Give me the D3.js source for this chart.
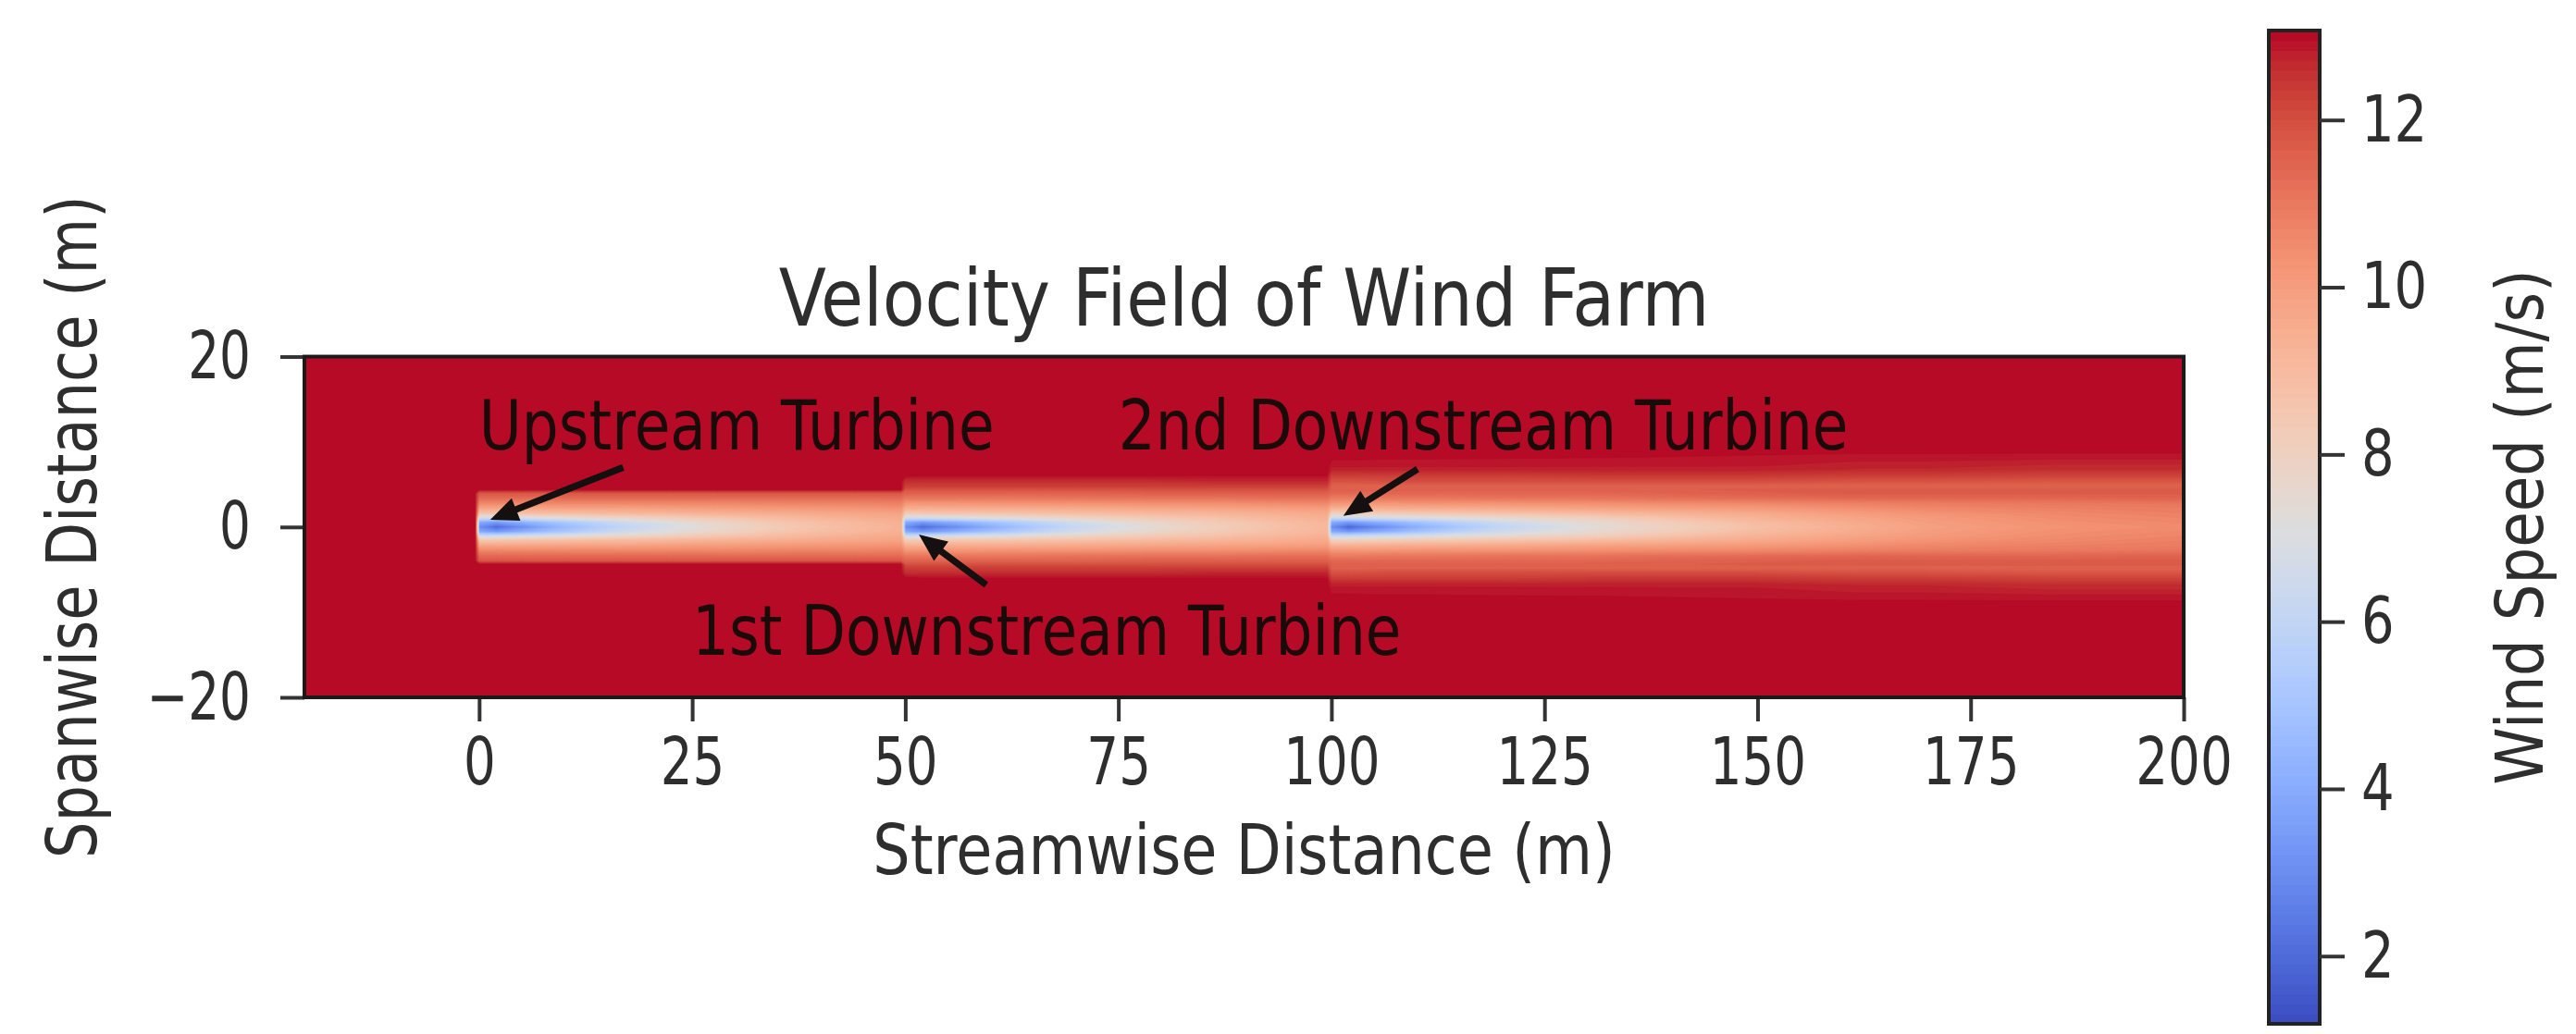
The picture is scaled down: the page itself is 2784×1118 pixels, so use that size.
<!DOCTYPE html>
<html><head><meta charset="utf-8">
<script src="https://cdn.jsdelivr.net/npm/d3@7"></script>
<style>body{margin:0;background:#fff}svg{display:block}</style>
</head><body>
<svg id="chart" width="2784" height="1118"></svg>
<script>
// ================= DATA =================
// streamwise stations (m) of the sampled velocity field
const xStations = [-20.5, -0.5, 0, 2, 5, 10, 16, 22, 28, 36, 44, 49.5,
  50, 52, 56, 62, 70, 78, 86, 93, 99.5,
  100, 102, 106, 112, 120, 130, 138, 150, 162, 170, 185, 200];
// spanwise offsets |y| (m); the field is symmetric about y = 0
const yOffsets = [0, 0.6, 1.1, 1.6, 2.2, 2.8, 3.4, 4.0, 4.4, 4.8, 5.4, 6.0, 6.8, 8.2, 9.0, 20];
// wind speed (m/s) at each station, one value per |y| offset
const speedProfiles = [
  [13, 13, 13, 13, 13, 13, 13, 13, 13, 13, 13, 13, 13, 13, 13, 13],                       // x=-20.5
  [13, 13, 13, 13, 13, 13, 13, 13, 13, 13, 13, 13, 13, 13, 13, 13],                       // x=-0.5
  [3.0, 4.0, 6.5, 8.5, 9.7, 10.6, 11.3, 11.8, 13, 13, 13, 13, 13, 13, 13, 13],            // x=0 upstream turbine
  [2.0, 3.5, 6.5, 8.6, 9.7, 10.6, 11.3, 11.8, 13, 13, 13, 13, 13, 13, 13, 13],
  [3.0, 4.2, 6.8, 8.7, 9.7, 10.6, 11.3, 11.8, 13, 13, 13, 13, 13, 13, 13, 13],
  [4.5, 5.2, 7.2, 8.8, 9.8, 10.6, 11.3, 11.8, 13, 13, 13, 13, 13, 13, 13, 13],
  [5.8, 6.3, 7.7, 9.0, 9.8, 10.6, 11.3, 11.8, 13, 13, 13, 13, 13, 13, 13, 13],
  [6.8, 7.1, 8.1, 9.1, 9.9, 10.6, 11.3, 11.8, 13, 13, 13, 13, 13, 13, 13, 13],
  [7.6, 7.8, 8.5, 9.3, 10.0, 10.6, 11.3, 11.8, 13, 13, 13, 13, 13, 13, 13, 13],
  [8.4, 8.6, 9.0, 9.5, 10.1, 10.7, 11.3, 11.8, 13, 13, 13, 13, 13, 13, 13, 13],
  [9.0, 9.1, 9.4, 9.7, 10.2, 10.7, 11.3, 11.8, 13, 13, 13, 13, 13, 13, 13, 13],
  [9.3, 9.4, 9.6, 9.8, 10.3, 10.8, 11.3, 11.8, 13, 13, 13, 13, 13, 13, 13, 13],          // x=49.5
  [3.0, 4.0, 6.5, 8.3, 9.4, 10.2, 11.0, 11.5, 11.9, 12.3, 12.6, 13, 13, 13, 13, 13],      // x=50 1st downstream
  [2.0, 3.5, 6.5, 8.4, 9.4, 10.2, 11.0, 11.5, 11.9, 12.3, 12.6, 12.95, 13, 13, 13, 13],
  [3.0, 4.2, 6.8, 8.5, 9.5, 10.2, 11.0, 11.5, 11.9, 12.3, 12.6, 12.95, 13, 13, 13, 13],
  [4.5, 5.3, 7.2, 8.6, 9.5, 10.3, 11.0, 11.5, 11.9, 12.3, 12.6, 12.95, 13, 13, 13, 13],
  [6.2, 6.6, 7.8, 8.8, 9.6, 10.3, 11.1, 11.5, 11.9, 12.3, 12.6, 12.95, 13, 13, 13, 13],
  [7.3, 7.6, 8.3, 9.0, 9.7, 10.4, 11.1, 11.6, 11.9, 12.3, 12.6, 12.95, 13, 13, 13, 13],
  [8.1, 8.3, 8.7, 9.2, 9.8, 10.4, 11.1, 11.6, 11.9, 12.3, 12.7, 12.95, 13, 13, 13, 13],
  [8.7, 8.8, 9.1, 9.4, 9.9, 10.5, 11.2, 11.6, 11.9, 12.3, 12.7, 12.95, 13, 13, 13, 13],
  [9.1, 9.2, 9.4, 9.6, 10.0, 10.6, 11.2, 11.6, 11.9, 12.3, 12.7, 12.95, 13, 13, 13, 13],  // x=99.5
  [3.0, 4.0, 6.3, 8.0, 9.3, 10.2, 10.9, 11.4, 11.6, 11.5, 11.9, 12.3, 12.8, 13, 13, 13],   // x=100 2nd downstream
  [1.8, 3.5, 6.3, 8.1, 9.3, 10.2, 10.9, 11.4, 11.6, 11.5, 11.9, 12.3, 12.8, 13, 13, 13],
  [3.0, 4.2, 6.6, 8.2, 9.4, 10.2, 11.0, 11.4, 11.6, 11.5, 12.0, 12.3, 12.8, 12.98, 13, 13],
  [4.5, 5.3, 7.0, 8.4, 9.5, 10.3, 11.0, 11.4, 11.6, 11.5, 12.0, 12.3, 12.8, 12.98, 13, 13],
  [6.0, 6.5, 7.5, 8.6, 9.6, 10.3, 11.1, 11.4, 11.6, 11.5, 12.0, 12.3, 12.8, 12.97, 13, 13],
  [7.2, 7.5, 8.1, 8.9, 9.8, 10.4, 11.1, 11.4, 11.6, 11.5, 12.0, 12.4, 12.8, 12.96, 13, 13],
  [7.9, 8.1, 8.6, 9.2, 9.9, 10.5, 11.2, 11.5, 11.6, 11.5, 12.0, 12.4, 12.8, 12.95, 13, 13],
  [8.8, 9.0, 9.3, 9.6, 10.1, 10.6, 11.3, 11.6, 11.7, 11.5, 12.0, 12.4, 12.8, 12.93, 13, 13],
  [9.5, 9.6, 9.8, 10.0, 10.4, 10.8, 11.4, 11.7, 11.7, 11.5, 11.9, 12.3, 12.7, 12.9, 13, 13],
  [9.9, 10.0, 10.1, 10.3, 10.6, 10.9, 11.4, 11.7, 11.7, 11.5, 11.9, 12.3, 12.7, 12.9, 13, 13],
  [10.3, 10.4, 10.5, 10.6, 10.8, 11.0, 11.4, 11.7, 11.7, 11.5, 11.8, 12.2, 12.6, 12.88, 13, 13],
  [10.5, 10.6, 10.7, 10.8, 10.9, 11.1, 11.5, 11.7, 11.7, 11.5, 11.8, 12.2, 12.6, 12.88, 13, 13] // x=200
];
const speedRange = [1.19, 13.07];          // colour-bar limits (m/s)
const levelCount = 100;                    // filled contour levels
const xTicks = [0, 25, 50, 75, 100, 125, 150, 175, 200];
const yTicks = [-20, 0, 20];
const cbTicks = [2, 4, 6, 8, 10, 12];
const annotations = [
  {text: "Upstream Turbine",       tx: 0,  ty: 9.1,  ax: 16.9,  ay: 7.0,  hx: 1.3,   hy: 0.85},
  {text: "1st Downstream Turbine", tx: 25, ty: -15,  ax: 59.5,  ay: -6.8, hx: 51.6,  hy: -0.9},
  {text: "2nd Downstream Turbine", tx: 75, ty: 9.1,  ax: 110.1, ay: 6.8,  hx: 101.4, hy: 1.3}
];
const titleText = "Velocity Field of Wind Farm";
const xLabel = "Streamwise Distance (m)";
const yLabel = "Spanwise Distance (m)";
const cbLabel = "Wind Speed (m/s)";
// matplotlib "coolwarm" colour stops
const coolwarm = [[59,76,192],[68,90,204],[77,104,215],[87,117,225],[98,130,234],[108,142,241],
  [119,154,247],[130,165,251],[141,176,254],[152,185,255],[163,194,255],[174,201,253],[184,208,249],
  [194,213,244],[204,217,238],[213,219,230],[221,221,221],[229,216,209],[236,211,197],[241,204,185],
  [245,196,173],[247,187,160],[247,177,148],[247,166,135],[244,154,123],[241,141,111],[236,127,99],
  [229,112,88],[222,96,77],[213,80,66],[203,62,56],[192,40,47],[180,4,38]];

// ================= LAYOUT =================
const FONT = "DejaVu Sans";
const TXT = "#2e2e2e";
const plot = {left: 329, right: 2360, bottom: 754};
const xDomain = [-20.5, 200];
const pxPerUnit = (plot.right - plot.left) / (xDomain[1] - xDomain[0]);
plot.top = plot.bottom - pxPerUnit * (yTicks[2] - yTicks[0]);
const cb = {left: 2452, right: 2507, top: 33, bottom: 1107};

const svg = d3.select("#chart");
const x = d3.scaleLinear().domain(xDomain).range([plot.left, plot.right]);
const y = d3.scaleLinear().domain([-20, 20]).range([plot.bottom, plot.top]);

const cmapScale = d3.scaleLinear()
  .domain(coolwarm.map((_, i) => i / (coolwarm.length - 1)))
  .range(coolwarm.map(c => d3.rgb(c[0], c[1], c[2])))
  .interpolate(d3.interpolateRgb).clamp(true);
const norm = d3.scaleLinear().domain(speedRange).range([0, 1]);
const levels = d3.range(levelCount + 1).map(i => speedRange[0] + (speedRange[1] - speedRange[0]) * i / levelCount);
const bandColor = i => cmapScale(norm((levels[i] + levels[i + 1]) / 2));

// ---- build the grid (rows from +y to -y) ----
const n = xStations.length;
const offIdx = [...d3.range(yOffsets.length).reverse(), ...d3.range(1, yOffsets.length)];
const yRows = offIdx.map((k, j) => j < yOffsets.length ? yOffsets[k] : -yOffsets[k]);
const m = yRows.length;
const values = new Array(n * m);
for (let j = 0; j < m; j++) for (let i = 0; i < n; i++) values[j * n + i] = speedProfiles[i][offIdx[j]];

const xi = d3.scaleLinear().domain(d3.range(n)).range(xStations).clamp(true);
const yi = d3.scaleLinear().domain(d3.range(m)).range(yRows).clamp(true);
const proj = d3.geoTransform({point(px, py) { this.stream.point(x(xi(px - 0.5)), y(yi(py - 0.5))); }});
const path = d3.geoPath(proj);
const contours = d3.contours().size([n, m]).thresholds(levels.slice(0, -1))(values);

svg.append("clipPath").attr("id", "plotclip").append("rect")
  .attr("x", plot.left).attr("y", plot.top).attr("width", plot.right - plot.left).attr("height", plot.bottom - plot.top);
const field = svg.append("g").attr("clip-path", "url(#plotclip)");
field.selectAll("path").data(contours).join("path")
  .attr("d", path).attr("fill", (d, i) => bandColor(i)).attr("stroke", (d, i) => bandColor(i)).attr("stroke-width", 0.6);

// ---- annotations ----
function arrow(g, x1, y1, x2, y2) {
  const dx = x2 - x1, dy = y2 - y1, L = Math.hypot(dx, dy), ux = dx / L, uy = dy / L;
  const hl = 30, hw = 13, sw = 3.6, px = -uy, py = ux;
  const bx = x2 - ux * hl, by = y2 - uy * hl;
  const pts = [[x1 + px * sw, y1 + py * sw], [bx + px * sw, by + py * sw], [bx + px * hw, by + py * hw], [x2, y2],
    [bx - px * hw, by - py * hw], [bx - px * sw, by - py * sw], [x1 - px * sw, y1 - py * sw]];
  g.append("polygon").attr("points", pts.map(p => p.join(",")).join(" ")).attr("fill", "#141010");
}
function label(g, txt, px, py, o) {
  const t = g.append("text")
    .attr("transform", `translate(${px},${py}) rotate(${o.rotate || 0}) scale(${o.sx || 1},1)`)
    .attr("text-anchor", o.anchor || "start").attr("font-family", FONT).attr("font-size", o.size)
    .attr("fill", o.fill || TXT).text(txt);
  if (o.dy) t.attr("dy", o.dy);
  return t;
}
const ann = svg.append("g").attr("clip-path", "url(#plotclip)");
annotations.forEach(a => {
  label(ann, a.text, x(a.tx), y(a.ty), {size: 74, sx: 0.85, fill: "#1a0a0a"});
  arrow(ann, x(a.ax), y(a.ay), x(a.hx), y(a.hy));
});

// ---- axes ----
function styleAxis(g, size, sx, shift) {
  g.select(".domain").remove();
  g.attr("font-family", FONT).attr("font-size", size).attr("color", TXT);
  g.selectAll(".tick line").attr("stroke", "#333").attr("stroke-width", 4);
  g.selectAll(".tick text").attr("transform", `scale(${sx},1)`);
  if (shift !== undefined) g.selectAll(".tick text").attr("x", shift / sx);
}
const xAxis = svg.append("g").attr("transform", `translate(0,${plot.bottom})`)
  .call(d3.axisBottom(x).tickValues(xTicks).tickSize(26).tickPadding(17).tickFormat(d3.format("d")));
styleAxis(xAxis, 72, 0.76);
const yAxis = svg.append("g").attr("transform", `translate(${plot.left},0)`)
  .call(d3.axisLeft(y).tickValues(yTicks).tickSize(26).tickPadding(32).tickFormat(d => d < 0 ? "\u2212" + Math.abs(d) : String(d)));
styleAxis(yAxis, 72, 0.74, -58);

svg.append("rect").attr("x", plot.left).attr("y", plot.top)
  .attr("width", plot.right - plot.left).attr("height", plot.bottom - plot.top)
  .attr("fill", "none").attr("stroke", "#1a1a1a").attr("stroke-width", 4);

// ---- titles ----
const cx = (plot.left + plot.right) / 2;
label(svg, titleText, cx, 352, {size: 86, sx: 0.87, anchor: "middle"});
label(svg, xLabel, cx, 945, {size: 74, sx: 0.86, anchor: "middle"});
label(svg, yLabel, 104, (plot.top + plot.bottom) / 2, {size: 75, sx: 0.83, anchor: "middle", rotate: -90});

// ---- colour bar ----
const cbScale = d3.scaleLinear().domain(speedRange).range([cb.bottom, cb.top]);
svg.append("g").selectAll("rect").data(d3.range(levelCount)).join("rect")
  .attr("x", cb.left).attr("width", cb.right - cb.left)
  .attr("y", i => cbScale(levels[i + 1]) - 0.5)
  .attr("height", i => cbScale(levels[i]) - cbScale(levels[i + 1]) + 1)
  .attr("fill", i => bandColor(i));
svg.append("rect").attr("x", cb.left).attr("y", cb.top).attr("width", cb.right - cb.left).attr("height", cb.bottom - cb.top)
  .attr("fill", "none").attr("stroke", "#222").attr("stroke-width", 4);
const cbAxis = svg.append("g").attr("transform", `translate(${cb.right},0)`)
  .call(d3.axisRight(cbScale).tickValues(cbTicks).tickSize(27).tickPadding(18).tickFormat(d3.format("d")));
styleAxis(cbAxis, 70, 0.8, 45);
label(svg, cbLabel, 2748, (cb.top + cb.bottom) / 2, {size: 72, sx: 0.87, anchor: "middle", rotate: -90});
</script>
</body></html>
